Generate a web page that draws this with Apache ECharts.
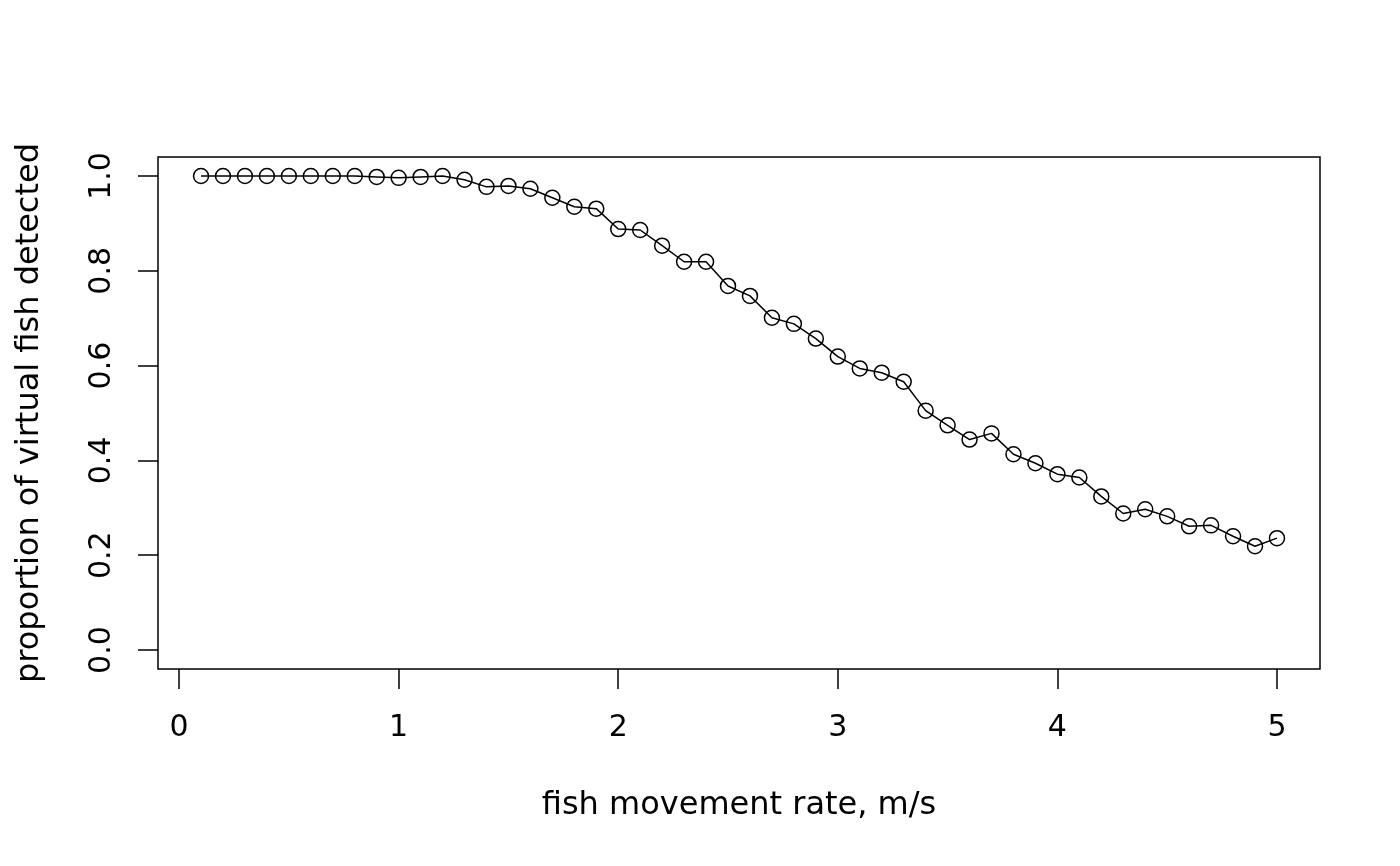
<!DOCTYPE html>
<html>
<head>
<meta charset="utf-8">
<script src="https://cdn.jsdelivr.net/npm/echarts@6/dist/echarts.min.js"></script>
<style>html,body{margin:0;padding:0;background:#fff}#c{width:1400px;height:866px}</style>
</head>
<body>
<div id="c"></div>
<script>
const speeds = [0.1,0.2,0.3,0.4,0.5,0.6,0.7,0.8,0.9,1.0,1.1,1.2,1.3,1.4,1.5,1.6,1.7,1.8,1.9,2.0,2.1,2.2,2.3,2.4,2.5,2.6,2.7,2.8,2.9,3.0,3.1,3.2,3.3,3.4,3.5,3.6,3.7,3.8,3.9,4.0,4.1,4.2,4.3,4.4,4.5,4.6,4.7,4.8,4.9,5.0];
const detected = [1.0,1.0,1.0,1.0,1.0,1.0,1.0,1.0,0.998,0.996,0.998,1.0,0.992,0.977,0.979,0.973,0.954,0.935,0.931,0.888,0.886,0.853,0.819,0.819,0.768,0.747,0.701,0.688,0.657,0.619,0.594,0.585,0.566,0.505,0.474,0.444,0.457,0.413,0.394,0.371,0.364,0.324,0.288,0.297,0.282,0.261,0.263,0.240,0.219,0.236];
const xTicks = [0,1,2,3,4,5];
const yTicks = [0,0.2,0.4,0.6,0.8,1.0];
const xTitle = 'fish movement rate, m/s';
const yTitle = 'proportion of virtual fish detected';

const points = speeds.map((s, i) => [s, detected[i]]);
const font = 'DejaVu Sans';
const fs = 30;
const fsTitle = 32;
const chart = echarts.init(document.getElementById('c'));
chart.setOption({
  animation: false,
  backgroundColor: '#fff',
  grid: { left: 158, right: 80, top: 157, bottom: 197, show: true, borderColor: '#000', borderWidth: 1.5, backgroundColor: 'transparent' },
  xAxis: {
    type: 'value', min: -0.096, max: 5.196,
    axisLine: { show: false, onZero: false },
    splitLine: { show: false },
    axisTick: { show: true, customValues: xTicks, length: 20, lineStyle: { color: '#000', width: 1.5 } },
    axisLabel: { customValues: xTicks, margin: 44, color: '#000', fontFamily: font, fontSize: fs, formatter: v => String(v) },
    name: xTitle, nameLocation: 'middle', nameGap: 121,
    nameTextStyle: { color: '#000', fontFamily: font, fontSize: fsTitle }
  },
  yAxis: {
    type: 'value', min: -0.04, max: 1.04,
    axisLine: { show: false, onZero: false },
    splitLine: { show: false },
    axisTick: { show: true, customValues: yTicks, length: 20, lineStyle: { color: '#000', width: 1.5 } },
    axisLabel: { customValues: yTicks, rotate: 90, margin: 41, color: '#000', fontFamily: font, fontSize: fs, formatter: v => v.toFixed(1) },
    name: yTitle, nameLocation: 'middle', nameGap: 112,
    nameTextStyle: { color: '#000', fontFamily: font, fontSize: fsTitle }
  },
  series: [{
    type: 'line',
    data: points,
    symbol: 'circle',
    symbolSize: 15,
    showAllSymbol: true,
    lineStyle: { color: '#000', width: 1.5 },
    itemStyle: { color: 'rgba(0,0,0,0)', borderColor: '#000', borderWidth: 1.5 },
    emphasis: { disabled: true }
  }]
});
</script>
</body>
</html>
